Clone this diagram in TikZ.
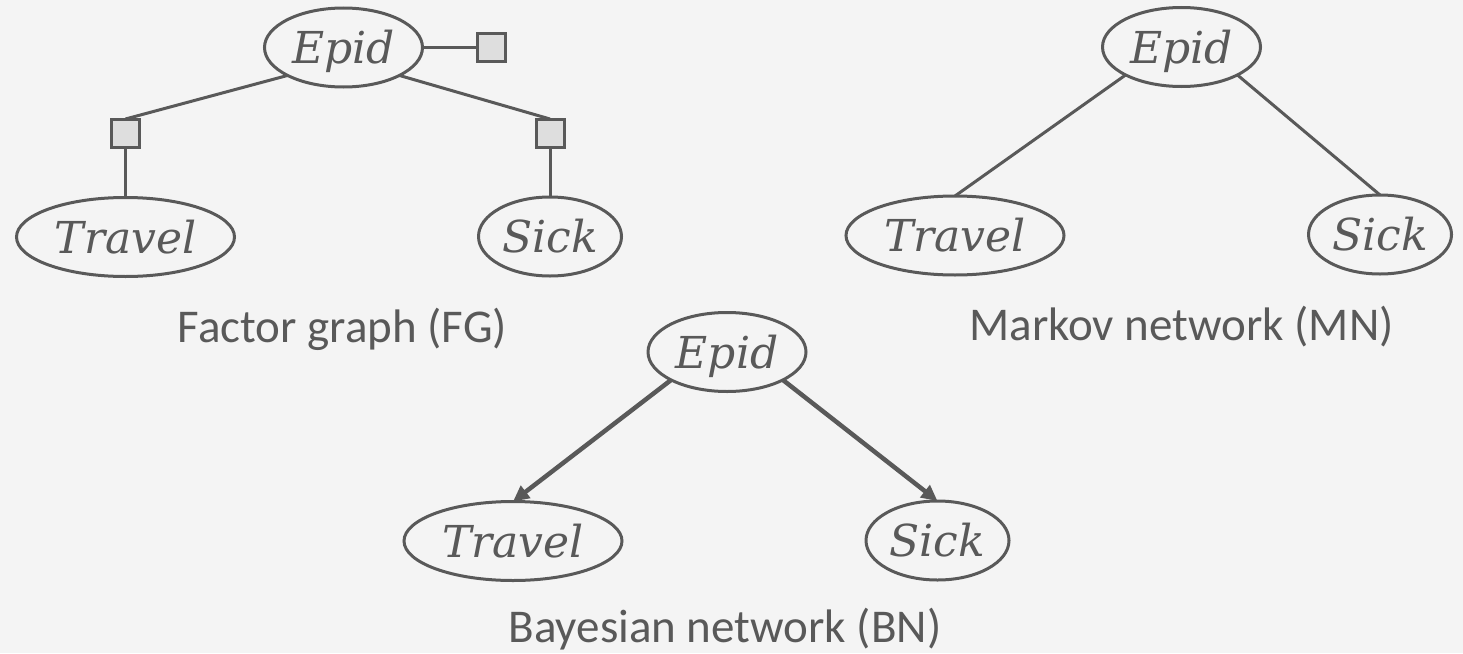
\documentclass[tikz,border=0pt]{standalone}
\usepackage{fontspec}
\setmainfont{Carlito}
\newfontfamily\varfont{DejaVu Serif}
\usetikzlibrary{arrows.meta,shapes.geometric}
\definecolor{ink}{HTML}{595959}
\definecolor{paper}{HTML}{F4F4F4}
\definecolor{factorfill}{HTML}{DEDEDE}
\tikzset{
  var/.style={ellipse, draw=ink, line width=3pt, inner sep=0pt, outer sep=0pt,
    minimum height=79pt, text=ink,
    font=\varfont\itshape\fontsize{44}{50}\selectfont,
    text height=32pt, text depth=0pt},
  longvar/.style={var, minimum width=218pt},
  shortvar/.style={var, minimum width=143pt},
  midvar/.style={var, minimum width=158pt},
  factor/.style={rectangle, draw=ink, fill=factorfill, line width=3pt,
    minimum size=28pt, inner sep=0pt, outer sep=0pt},
  edge/.style={draw=ink, line width=3pt},
  arc/.style={draw=ink, line width=4.5pt, -{Triangle[length=16pt,width=15pt]}},
  caption/.style={text=ink, font=\fontsize{47}{56}\selectfont, anchor=base, inner sep=0pt}
}
\begin{document}
\begin{tikzpicture}[x=1pt, y=-1pt]
  \fill[paper] (0,0) rectangle (1463,653);
  \useasboundingbox (0,0) rectangle (1463,653);

  % Factor graph
  \node[midvar]   (fgE) at (343.5,47.5) {Epid};
  \node[longvar]  (fgT) at (125.5,237)  {Travel};
  \node[shortvar] (fgS) at (550,236.5)  {Sick};
  \node[factor] (fE) at (491,47.5) {};
  \node[factor] (fT) at (125.5,133) {};
  \node[factor] (fS) at (550,133) {};
  \draw[edge] (fgE.east) -- (fE.west);
  \draw[edge] (fgE.south west) -- (fT.north);
  \draw[edge] (fgE.south east) -- (fS.north);
  \draw[edge] (fT.south) -- (fgT.north);
  \draw[edge] (fS.south) -- (fgS.north);
  \node[caption] (fgCap) at (342.5,342) {Factor graph (FG)};

  % Markov network
  \node[midvar]   (mnE) at (1181.5,47)  {Epid};
  \node[longvar]  (mnT) at (955,235.5)  {Travel};
  \node[shortvar] (mnS) at (1380,234.5) {Sick};
  \draw[edge] (mnE.south west) -- (mnT.north);
  \draw[edge] (mnE.south east) -- (mnS.north);
  \node[caption] (mnCap) at (1181.5,340) {Markov network (MN)};

  % Bayesian network
  \node[midvar]   (bnE) at (727,352)     {Epid};
  \node[longvar]  (bnT) at (513,541)     {Travel};
  \node[shortvar] (bnS) at (937.5,540.5) {Sick};
  \draw[arc] (bnE.south west) -- (bnT.north);
  \draw[arc] (bnE.south east) -- (bnS.north);
  \node[caption] (bnCap) at (725,642) {Bayesian network (BN)};
\end{tikzpicture}
\end{document}
